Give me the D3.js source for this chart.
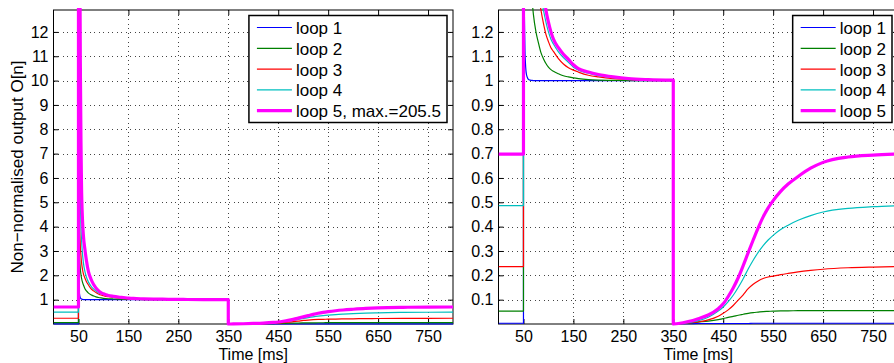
<!DOCTYPE html>
<html>
<head>
<meta charset="utf-8">
<script src="https://cdn.jsdelivr.net/npm/d3@7"></script>
<style>
  html, body { margin: 0; padding: 0; background: #fff; }
  svg { display: block; font-family: "Liberation Sans", Arial, Helvetica, sans-serif; }
</style>
</head>
<body>
<svg id="chart" width="894" height="363"></svg>
<script>
// ---------------- DATA ----------------
const loopNames = ["loop 1", "loop 2", "loop 3", "loop 4", "loop 5"];
const loopColors = ["#0000ff", "#008000", "#ff0000", "#00bfbf", "#ff00ff"];
const loop5Max = 205.5;

// steady level before the step (t = 0 .. 50 ms)
const preLevel = [0.003, 0.053, 0.236, 0.486, 0.698];

// response after the step at 50 ms, up to 350 ms
const decayTimes = [50, 51, 52, 53, 54, 55, 56, 58, 60, 63, 66, 70, 75, 80, 85, 90, 95, 100, 105, 110, 120, 130, 140, 150, 160, 180, 200, 230, 260, 300, 350];
const decayLoop1 = [2.0, 1.5, 1.25, 1.12, 1.07, 1.04, 1.025, 1.012, 1.005, 1.002, 1.001, 1.0, 1.0, 1.0, 1.0, 1.0, 1.0, 1.0, 1.0, 1.0, 1.0, 1.0, 1.0, 1.0, 1.0, 1.0, 1.0, 1.0, 1.0, 1.0, 1.0];
const decayLoop2 = [4.0, 3.2, 2.76, 2.45, 2.2, 2.03, 1.9, 1.72, 1.6, 1.45, 1.36, 1.27, 1.2, 1.155, 1.115, 1.09, 1.07, 1.055, 1.045, 1.038, 1.028, 1.02, 1.015, 1.011, 1.008, 1.004, 1.002, 1.001, 1.0, 1.0, 1.0];
const decayLoop3 = [8.0, 5.5, 4.3, 3.6, 3.1, 2.8, 2.55, 2.25, 2.05, 1.88, 1.74, 1.6, 1.45, 1.36, 1.29, 1.235, 1.19, 1.16, 1.135, 1.12, 1.09, 1.068, 1.053, 1.043, 1.035, 1.022, 1.015, 1.008, 1.005, 1.002, 1.001];
const decayLoop4 = [30, 14, 8.5, 6.0, 4.8, 4.0, 3.5, 2.9, 2.5, 2.15, 1.92, 1.72, 1.56, 1.44, 1.35, 1.29, 1.24, 1.2, 1.17, 1.15, 1.118, 1.094, 1.075, 1.055, 1.043, 1.03, 1.02, 1.012, 1.007, 1.003, 1.001];
const decayLoop5 = [205.5, 60, 25, 14, 10, 7.5, 5.8, 4.3, 3.6, 3.05, 2.6, 2.15, 1.85, 1.63, 1.48, 1.37, 1.29, 1.24, 1.2, 1.17, 1.135, 1.108, 1.087, 1.065, 1.049, 1.035, 1.025, 1.015, 1.008, 1.004, 1.002];

// recovery after the stimulus ends at 350 ms
const recoveryTimes = [350, 360, 380, 400, 420, 440, 450, 460, 470, 480, 490, 500, 510, 520, 530, 540, 550, 565, 580, 600, 625, 650, 700, 750, 800];
const recoveryLoop1 = [0, 0.001, 0.001, 0.002, 0.002, 0.002, 0.002, 0.002, 0.002, 0.002, 0.002, 0.002, 0.003, 0.003, 0.003, 0.003, 0.003, 0.003, 0.003, 0.003, 0.003, 0.003, 0.003, 0.003, 0.003];
const recoveryLoop2 = [0, 0.001, 0.004, 0.008, 0.012, 0.018, 0.022, 0.027, 0.031, 0.036, 0.04, 0.044, 0.047, 0.049, 0.051, 0.052, 0.053, 0.054, 0.054, 0.055, 0.055, 0.055, 0.055, 0.055, 0.055];
const recoveryLoop3 = [0, 0.001, 0.004, 0.009, 0.017, 0.032, 0.044, 0.058, 0.076, 0.098, 0.12, 0.145, 0.163, 0.177, 0.187, 0.193, 0.197, 0.203, 0.208, 0.214, 0.22, 0.225, 0.231, 0.234, 0.236];
const recoveryLoop4 = [0, 0.001, 0.006, 0.014, 0.028, 0.053, 0.07, 0.092, 0.118, 0.15, 0.186, 0.226, 0.262, 0.294, 0.322, 0.345, 0.364, 0.388, 0.406, 0.426, 0.445, 0.46, 0.475, 0.482, 0.486];
const recoveryLoop5 = [0, 0.002, 0.01, 0.022, 0.037, 0.063, 0.083, 0.113, 0.148, 0.19, 0.24, 0.293, 0.345, 0.395, 0.44, 0.477, 0.507, 0.545, 0.575, 0.606, 0.64, 0.664, 0.686, 0.694, 0.698];

const xTicks = [50, 150, 250, 350, 450, 550, 650, 750];
const yTicksLeft = [1, 2, 3, 4, 5, 6, 7, 8, 9, 10, 11, 12];
const yTicksRight = [0.1, 0.2, 0.3, 0.4, 0.5, 0.6, 0.7, 0.8, 0.9, 1, 1.1, 1.2];
const xLabel = "Time [ms]";
const yLabel = "Non\u2212normalised output O[n]";

const decaySets = [decayLoop1, decayLoop2, decayLoop3, decayLoop4, decayLoop5];
const recoverySets = [recoveryLoop1, recoveryLoop2, recoveryLoop3, recoveryLoop4, recoveryLoop5];

// ---------------- LAYOUT ----------------
const svg = d3.select("#chart");
const plotTop = 10, plotBottom = 324;
const panels = [
  { id: "L", x0: 53.5, x1: 453, yMax: 12.9, yTicks: yTicksLeft,
    legend: loopNames.map((n, i) => i === 4 ? n + ", max.=" + loop5Max : n), yLabel: true },
  { id: "R", x0: 498.5, x1: 898, yMax: 1.29, yTicks: yTicksRight,
    legend: loopNames.slice(), yLabel: false }
];
const widths = [1.2, 1.2, 1.2, 1.2, 3.2];
const fmtY = d => (Math.round(d * 10) / 10).toString();

panels.forEach(p => {
  const x = d3.scaleLinear().domain([0, 800]).range([p.x0, p.x1]);
  const y = d3.scaleLinear().domain([0, p.yMax]).range([plotBottom, plotTop]);
  const g = svg.append("g");

  svg.append("clipPath").attr("id", "clip" + p.id)
    .append("rect").attr("x", p.x0).attr("y", plotTop - 2)
    .attr("width", p.x1 - p.x0).attr("height", plotBottom - plotTop + 4);

  // grid
  const grid = g.append("g").attr("stroke", "#444").attr("stroke-width", 1)
    .attr("stroke-dasharray", "1,3.5").attr("shape-rendering", "crispEdges");
  grid.selectAll("line.gx").data(xTicks).join("line").attr("class", "gx")
    .attr("x1", d => Math.round(x(d)) + 0.5).attr("x2", d => Math.round(x(d)) + 0.5)
    .attr("y1", plotTop).attr("y2", plotBottom);
  grid.selectAll("line.gy").data(p.yTicks).join("line").attr("class", "gy")
    .attr("y1", d => Math.round(y(d)) + 0.5).attr("y2", d => Math.round(y(d)) + 0.5)
    .attr("x1", p.x0).attr("x2", p.x1);

  // axes (inward ticks)
  g.append("g").attr("transform", `translate(0,${plotBottom})`)
    .call(d3.axisBottom(x).tickValues(xTicks).tickSize(-5).tickSizeOuter(0).tickPadding(6.5));
  g.append("g").attr("transform", `translate(${p.x0},0)`)
    .call(d3.axisLeft(y).tickValues(p.yTicks).tickFormat(fmtY).tickSize(-5).tickSizeOuter(0).tickPadding(5));
  g.append("g").attr("transform", `translate(0,${plotTop})`)
    .call(d3.axisTop(x).tickValues(xTicks).tickSize(-5).tickSizeOuter(0).tickFormat(""));
  g.append("g").attr("transform", `translate(${p.x1},0)`)
    .call(d3.axisRight(y).tickValues(p.yTicks).tickSize(-5).tickSizeOuter(0).tickFormat(""));
  g.selectAll(".domain").remove();
  g.selectAll(".tick text").attr("font-size", 16).attr("fill", "#000")
    .attr("font-family", "'Liberation Sans', Arial, sans-serif");
  g.selectAll(".tick line").attr("stroke", "#000");

  // frame
  g.append("rect").attr("x", p.x0).attr("y", plotTop)
    .attr("width", p.x1 - p.x0).attr("height", plotBottom - plotTop)
    .attr("fill", "none").attr("stroke", "#000").attr("stroke-width", 1);

  // lines
  const lin = d3.line().x(d => x(d[0])).y(d => y(d[1])).curve(d3.curveLinear);
  const smooth = d3.line().x(d => x(d[0])).y(d => y(d[1])).curve(d3.curveMonotoneX);
  const lg = g.append("g").attr("clip-path", `url(#clip${p.id})`);
  loopNames.forEach((name, i) => {
    const pre = [[0, preLevel[i]], [50, preLevel[i]]];
    const decay = decayTimes.map((t, k) => [t, decaySets[i][k]]);
    const drop = [[350, decaySets[i][decaySets[i].length - 1]], [350, recoverySets[i][0]]];
    const rec = recoveryTimes.map((t, k) => [t, recoverySets[i][k]]);
    const d = lin(pre) + smooth(decay).replace(/^M/, "L") + lin(drop).replace(/^M/, "L")
      + smooth(rec).replace(/^M/, "L");
    lg.append("path").attr("d", d).attr("fill", "none")
      .attr("stroke", loopColors[i]).attr("stroke-width", widths[i])
      .attr("stroke-linejoin", "round");
  });

  // axis labels
  g.append("text").attr("x", (p.x0 + p.x1) / 2).attr("y", 359.6)
    .attr("text-anchor", "middle").attr("font-size", 16).text(xLabel);
  if (p.yLabel) {
    g.append("text").attr("transform", `translate(22.5,${(plotTop + plotBottom) / 2}) rotate(-90)`)
      .attr("text-anchor", "middle").attr("font-size", 17).text(yLabel);
  }

  // legend
  const leg = g.append("g");
  const box = leg.append("rect").attr("fill", "#fff").attr("stroke", "#000").attr("stroke-width", 1.5);
  const rowH = 20.8, firstRow = 27.5;
  const texts = [];
  p.legend.forEach((lab, i) => {
    const ly = firstRow + i * rowH;
    leg.append("line").attr("class", "ls").attr("y1", ly).attr("y2", ly)
      .attr("stroke", loopColors[i]).attr("stroke-width", widths[i]);
    texts.push(leg.append("text").attr("y", ly + 6.5).attr("font-size", 17).text(lab));
  });
  const maxW = d3.max(texts, t => t.node().getComputedTextLength());
  const boxRight = p.x1 - 6;
  const boxLeft = boxRight - (47 + maxW + 6);
  box.attr("x", boxLeft).attr("y", 15.5).attr("width", boxRight - boxLeft).attr("height", 107);
  leg.selectAll("line.ls").attr("x1", boxLeft + 8).attr("x2", boxLeft + 43);
  texts.forEach(t => t.attr("x", boxLeft + 47));
});
</script>
</body>
</html>
